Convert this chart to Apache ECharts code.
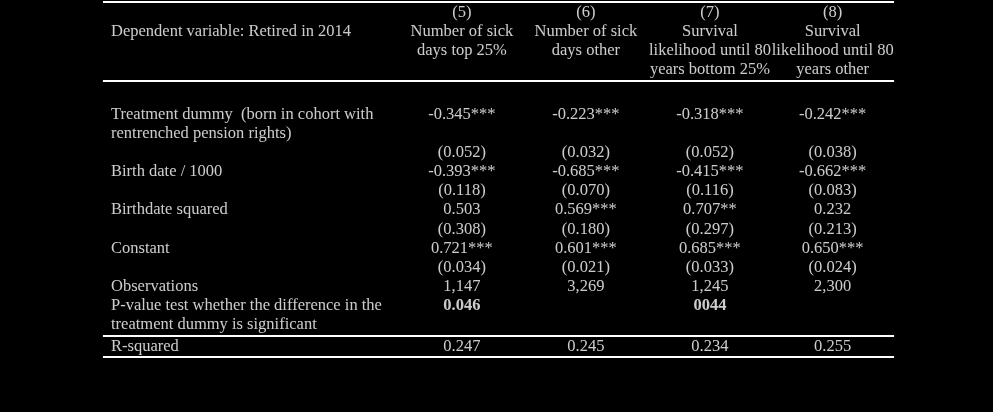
<!DOCTYPE html>
<html>
<head>
<meta charset="utf-8">
<script src="https://cdn.jsdelivr.net/npm/echarts@6/dist/echarts.min.js"></script>
<style>
html,body{margin:0;padding:0;background:#000;}
#chart{width:993px;height:412px;}
</style>
</head>
<body>
<div id="chart"></div>
<script>
// ---- data ----
var depVar = 'Dependent variable: Retired in 2014';
var columnIds = ['(5)', '(6)', '(7)', '(8)'];
var headerLine1 = ['Number of sick', 'Number of sick', 'Survival', 'Survival'];
var headerLine2 = ['days top 25%', 'days other', 'likelihood until 80', 'likelihood until 80'];
var headerLine3 = ['', '', 'years bottom 25%', 'years other'];

var rowLabels = [
  'Treatment dummy  (born in cohort with',
  'rentrenched pension rights)',
  '',
  'Birth date / 1000',
  '',
  'Birthdate squared',
  '',
  'Constant',
  '',
  'Observations',
  'P-value test whether the difference in the',
  'treatment dummy is significant',
  'R-squared'
];
var treatmentCoef = ['-0.345***', '-0.223***', '-0.318***', '-0.242***'];
var treatmentSE   = ['(0.052)', '(0.032)', '(0.052)', '(0.038)'];
var birthCoef     = ['-0.393***', '-0.685***', '-0.415***', '-0.662***'];
var birthSE       = ['(0.118)', '(0.070)', '(0.116)', '(0.083)'];
var birthSqCoef   = ['0.503', '0.569***', '0.707**', '0.232'];
var birthSqSE     = ['(0.308)', '(0.180)', '(0.297)', '(0.213)'];
var constCoef     = ['0.721***', '0.601***', '0.685***', '0.650***'];
var constSE       = ['(0.034)', '(0.021)', '(0.033)', '(0.024)'];
var observations  = ['1,147', '3,269', '1,245', '2,300'];
var pValues       = ['0.046', '', '0044', ''];
var rSquared      = ['0.247', '0.245', '0.234', '0.255'];

// ---- layout (row/column positions in table units) ----
var labelCol = 0;
var valueCols = [2.83, 3.83, 4.83, 5.82];
var headerRows = [-5.35, -4.35, -3.35, -2.35];
var bodyRows = {
  treatment: 0, treatmentSE: 2, birth: 3, birthSE: 4, birthSq: 5, birthSqSE: 6,
  constant: 7, constSE: 8, obs: 9, pval: 10, rsq: 12.14
};
var ruleRows = [-5.92, -1.785, 11.59, 12.69];
var ruleStart = -0.065, ruleEnd = 6.315;

var FONT = "'Liberation Serif','Times New Roman',serif";
var FS = 16.5;

var leftCells = [];
var centerCells = [];
var boldCells = [];

leftCells.push({value: [labelCol, headerRows[1]], txt: depVar});
rowLabels.forEach(function (t, i) {
  if (!t) return;
  var r = (i === 12) ? bodyRows.rsq : i;
  leftCells.push({value: [labelCol, r], txt: t});
});

function addRow(arr, r, bold) {
  arr.forEach(function (t, c) {
    if (!t) return;
    (bold ? boldCells : centerCells).push({value: [valueCols[c], r], txt: t});
  });
}
addRow(columnIds, headerRows[0]);
addRow(headerLine1, headerRows[1]);
addRow(headerLine2, headerRows[2]);
addRow(headerLine3, headerRows[3]);
addRow(treatmentCoef, bodyRows.treatment);
addRow(treatmentSE, bodyRows.treatmentSE);
addRow(birthCoef, bodyRows.birth);
addRow(birthSE, bodyRows.birthSE);
addRow(birthSqCoef, bodyRows.birthSq);
addRow(birthSqSE, bodyRows.birthSqSE);
addRow(constCoef, bodyRows.constant);
addRow(constSE, bodyRows.constSE);
addRow(observations, bodyRows.obs);
addRow(pValues, bodyRows.pval, true);
addRow(rSquared, bodyRows.rsq);

function textSeries(data, align, weight) {
  return {
    type: 'scatter',
    data: data,
    symbolSize: 0,
    silent: true,
    label: {
      show: true,
      position: [0, 0],
      align: align,
      verticalAlign: 'middle',
      color: '#fff',
      fontFamily: FONT,
      fontSize: FS,
      fontWeight: weight || 'normal',
      formatter: function (p) { return p.data.txt; }
    }
  };
}

var rules = ruleRows.map(function (r) {
  return [{coord: [ruleStart, r]}, {coord: [ruleEnd, r]}];
});

var chart = echarts.init(document.getElementById('chart'));
chart.setOption({
  backgroundColor: '#000',
  animation: false,
  grid: {left: 98.6, top: 0, width: 806, height: 401.1},
  xAxis: {type: 'value', min: -0.1, max: 6.4, show: false},
  yAxis: {type: 'value', min: -6, max: 15, inverse: true, show: false},
  series: [
    textSeries(leftCells, 'left'),
    textSeries(centerCells, 'center'),
    textSeries(boldCells, 'center', 'bold'),
    {
      type: 'scatter',
      data: [],
      silent: true,
      markLine: {
        silent: true,
        symbol: 'none',
        label: {show: false},
        lineStyle: {color: '#fff', width: 2, type: 'solid'},
        data: rules
      }
    }
  ]
});
</script>
</body>
</html>
